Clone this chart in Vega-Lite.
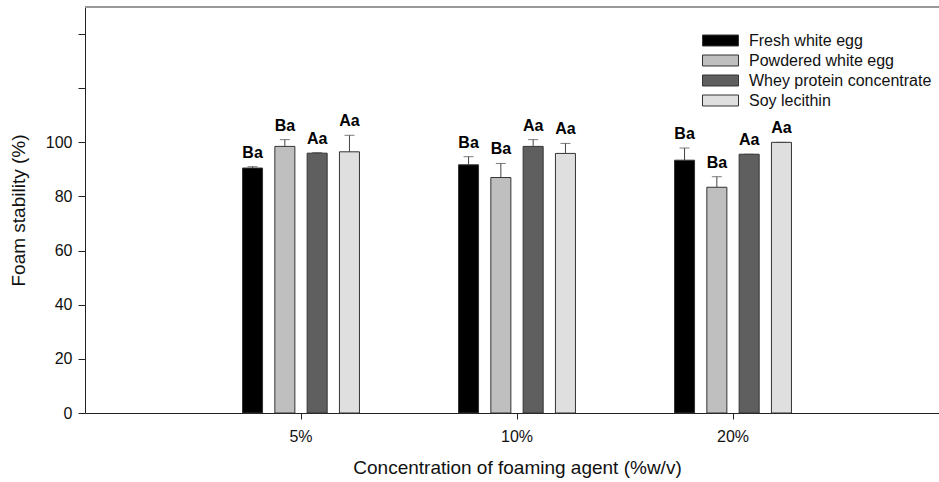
{
  "$schema": "https://vega.github.io/schema/vega-lite/v6.json",
  "autosize": "none",
  "padding": {"left": 85, "top": 7, "right": 0, "bottom": 69},
  "width": 854,
  "height": 406,
  "background": "white",
  "config": {
    "view": {"stroke": null},
    "font": "Liberation Sans",
    "axis": {
      "labelFont": "Liberation Sans",
      "titleFont": "Liberation Sans",
      "labelColor": "#111",
      "titleColor": "#111",
      "domainColor": "#222",
      "tickColor": "#222",
      "grid": false
    }
  },
  "data": {
    "values": [
      {"conc": "5%", "agent": "Fresh white egg", "mean": 90.5, "upper": 91.0, "group": "Ba"},
      {"conc": "5%", "agent": "Powdered white egg", "mean": 98.5, "upper": 101.0, "group": "Ba"},
      {"conc": "5%", "agent": "Whey protein concentrate", "mean": 96.0, "upper": 96.2, "group": "Aa"},
      {"conc": "5%", "agent": "Soy lecithin", "mean": 96.5, "upper": 102.6, "group": "Aa"},
      {"conc": "10%", "agent": "Fresh white egg", "mean": 91.7, "upper": 94.7, "group": "Ba"},
      {"conc": "10%", "agent": "Powdered white egg", "mean": 87.0, "upper": 92.2, "group": "Ba"},
      {"conc": "10%", "agent": "Whey protein concentrate", "mean": 98.5, "upper": 101.0, "group": "Aa"},
      {"conc": "10%", "agent": "Soy lecithin", "mean": 95.9, "upper": 99.6, "group": "Aa"},
      {"conc": "20%", "agent": "Fresh white egg", "mean": 93.4, "upper": 97.9, "group": "Ba"},
      {"conc": "20%", "agent": "Powdered white egg", "mean": 83.4, "upper": 87.3, "group": "Ba"},
      {"conc": "20%", "agent": "Whey protein concentrate", "mean": 95.6, "upper": 95.6, "group": "Aa"},
      {"conc": "20%", "agent": "Soy lecithin", "mean": 100.0, "upper": 100.0, "group": "Aa"}
    ]
  },
  "encoding": {
    "x": {
      "field": "conc",
      "type": "nominal",
      "sort": null,
      "scale": {"type": "band", "domain": ["5%", "10%", "20%"], "paddingInner": 0.4, "paddingOuter": 0.7, "range": [0, 864]},
      "axis": {
        "labelAngle": 0,
        "labelFontSize": 16,
        "tickSize": 6,
        "labelPadding": 9,
        "title": "Concentration of foaming agent (%w/v)",
        "titleFontSize": 19,
        "titleFontWeight": "normal",
        "titleX": 432,
        "titleY": 54,
        "titleBaseline": "middle",
        "titleAlign": "center"
      }
    },
    "xOffset": {
      "field": "agent",
      "type": "nominal",
      "sort": null,
      "scale": {
        "domain": ["Fresh white egg", "Powdered white egg", "Whey protein concentrate", "Soy lecithin"],
        "paddingInner": 0.38,
        "paddingOuter": 0.196
      }
    }
  },
  "layer": [
    {
      "mark": {"type": "bar", "stroke": "#333", "strokeWidth": 1},
      "encoding": {
        "y": {
          "field": "mean",
          "type": "quantitative",
          "scale": {"domain": [0, 150], "nice": false, "zero": true},
          "axis": {
            "values": [0, 20, 40, 60, 80, 100, 120, 140],
            "labelExpr": "datum.value <= 100 ? datum.label : ''",
            "labelFontSize": 16,
            "tickSize": 7,
            "labelPadding": 6,
            "title": "Foam stability (%)",
            "titleFontSize": 19,
            "titleFontWeight": "normal",
            "titleAngle": -90,
            "titleX": -67,
            "titleY": 203,
            "titleAlign": "center",
            "titleBaseline": "middle"
          }
        },
        "color": {
          "field": "agent",
          "type": "nominal",
          "sort": null,
          "scale": {
            "domain": ["Fresh white egg", "Powdered white egg", "Whey protein concentrate", "Soy lecithin"],
            "range": ["#000000", "#bfbfbf", "#5f5f5f", "#dfdfdf"]
          },
          "legend": {
            "title": null,
            "orient": "none",
            "legendX": 626,
            "legendY": 24,
            "symbolType": "M-2,-0.61H2V0.61H-2Z",
            "symbolSize": 324,
            "symbolStrokeColor": "#333",
            "symbolStrokeWidth": 1,
            "symbolOpacity": 1,
            "labelFont": "Liberation Sans",
            "labelFontSize": 16,
            "labelColor": "#111",
            "labelOffset": 19,
            "labelLimit": 400,
            "rowPadding": 2
          }
        }
      }
    },
    {
      "mark": {"type": "rule", "color": "#444", "strokeWidth": 1},
      "encoding": {
        "y": {"field": "mean", "type": "quantitative"},
        "y2": {"field": "upper"}
      }
    },
    {
      "mark": {"type": "tick", "orient": "horizontal", "color": "#444", "size": 10, "thickness": 1},
      "encoding": {
        "y": {"field": "upper", "type": "quantitative"}
      }
    },
    {
      "mark": {"type": "text", "fontWeight": "bold", "fontSize": 16, "font": "Liberation Sans", "baseline": "alphabetic", "dy": -9, "color": "#000"},
      "encoding": {
        "y": {"field": "upper", "type": "quantitative"},
        "text": {"field": "group"}
      }
    },
    {
      "mark": {"type": "rule", "color": "#999", "strokeWidth": 1.5},
      "encoding": {
        "y": {"datum": 150},
        "xOffset": null,
        "x": null
      }
    }
  ]
}
